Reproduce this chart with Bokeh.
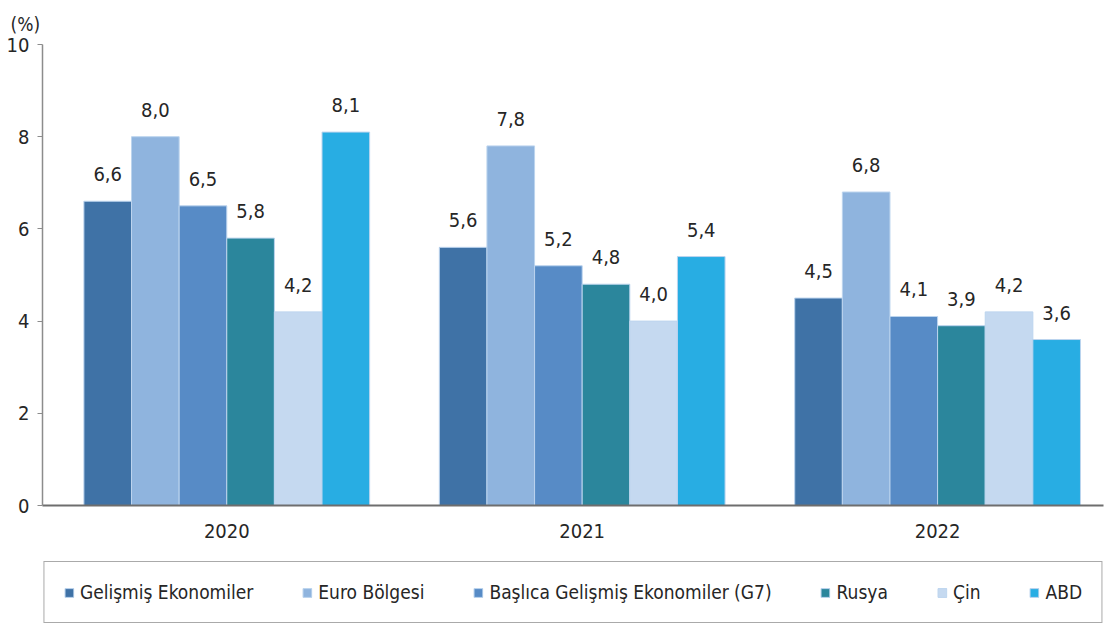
from bokeh.plotting import figure
from bokeh.layouts import column
from bokeh.models import (ColumnDataSource, FixedTicker, Legend, LegendItem,
                          LabelSet, Range1d, Title)
from bokeh.core.properties import value
from bokeh.embed import file_html
from bokeh.resources import INLINE

# ---- data ----
years = ["2020", "2021", "2022"]
series = ["Gelişmiş Ekonomiler", "Euro Bölgesi", "Başlıca Gelişmiş Ekonomiler (G7)",
          "Rusya", "Çin", "ABD"]
gelismis = [6.6, 5.6, 4.5]
euro = [8.0, 7.8, 6.8]
g7 = [6.5, 5.2, 4.1]
rusya = [5.8, 4.8, 3.9]
cin = [4.2, 4.0, 4.2]
abd = [8.1, 5.4, 3.6]
values = [gelismis, euro, g7, rusya, cin, abd]
colors = ["#3f72a6", "#8fb4de", "#578bc6", "#2b869c", "#c5d9f0", "#28ade3"]
y_ticks = [0, 2, 4, 6, 8, 10]

FONT = "DejaVu Sans Condensed"
TXT = "#262626"
EDGE = "#bcd4ee"

p = figure(width=1107, height=555, output_backend="svg", toolbar_location=None,
           x_range=Range1d(-0.5185, 2.4668), y_range=Range1d(0, 10),
           min_border_left=42, min_border_right=4, min_border_top=42,
           min_border_bottom=50)
p.outline_line_color = None
p.grid.grid_line_color = None

bw = 0.134
for j, (name, vals, col) in enumerate(zip(series, values, colors)):
    xs = [i + (j - 2.5) * bw for i in range(len(years))]
    src = ColumnDataSource(dict(x=xs, top=vals,
                                lab=[f"{v:.1f}".replace(".", ",") for v in vals]))
    p.vbar(x="x", top="top", width=bw, source=src, fill_color=col,
           line_color=EDGE, line_width=1)
    ls = LabelSet(x="x", y="top", text="lab", source=src, text_align="center",
                  text_baseline="alphabetic", y_offset=20,
                  text_font=value(FONT), text_font_size=value("20px"),
                  text_color=TXT)
    p.add_layout(ls)

# axes
p.xaxis.ticker = FixedTicker(ticks=list(range(len(years))))
p.xaxis.major_label_overrides = {i: y for i, y in enumerate(years)}
p.xaxis.major_tick_line_color = None
p.xaxis.minor_tick_line_color = None
p.xaxis.axis_line_color = "#6e6e6e"
p.xaxis.axis_line_width = 2
p.xaxis.major_label_text_font = FONT
p.xaxis.major_label_text_font_size = "20px"
p.xaxis.major_label_text_color = TXT
p.xaxis.major_label_standoff = 12

p.yaxis.ticker = FixedTicker(ticks=y_ticks)
p.yaxis.minor_tick_line_color = None
p.yaxis.major_tick_in = 0
p.yaxis.major_tick_out = 5
p.yaxis.major_tick_line_color = "#8c8c8c"
p.yaxis.axis_line_color = "#8c8c8c"
p.yaxis.axis_line_width = 1.5
p.yaxis.major_label_text_font = FONT
p.yaxis.major_label_text_font_size = "20px"
p.yaxis.major_label_text_color = TXT
p.yaxis.major_label_standoff = 8

p.add_layout(Title(text="(%)", align="left", offset=-32, standoff=20,
                   text_font=FONT, text_font_size="19px",
                   text_font_style="normal", text_color=TXT), "above")

# ---- legend strip ----
lg = figure(width=1107, height=74, output_backend="svg", toolbar_location=None,
            x_range=Range1d(0, 1), y_range=Range1d(0, 1),
            min_border_left=20, min_border_right=0, min_border_top=0,
            min_border_bottom=0)
lg.axis.visible = False
lg.grid.grid_line_color = None
lg.outline_line_color = None
items = []
for name, col in zip(series, colors):
    # placeholder glyph outside the visible range, only feeds the legend swatch
    r = lg.vbar(x=[-5], top=[-5], bottom=[-6], width=0.1, fill_color=col,
                line_color=EDGE, line_width=1)
    items.append(LegendItem(label=name, renderers=[r]))
legend = Legend(items=items, orientation="horizontal", location="center",
                border_line_color="#555555", border_line_width=1.5,
                padding=19, spacing=48, label_standoff=6,
                glyph_width=11, glyph_height=11,
                label_text_font=FONT, label_text_font_size="19px",
                label_text_color=TXT, margin=0)
lg.add_layout(legend)

layout = column(p, lg, spacing=0)
open("out.html", "w").write(file_html(layout, INLINE))
